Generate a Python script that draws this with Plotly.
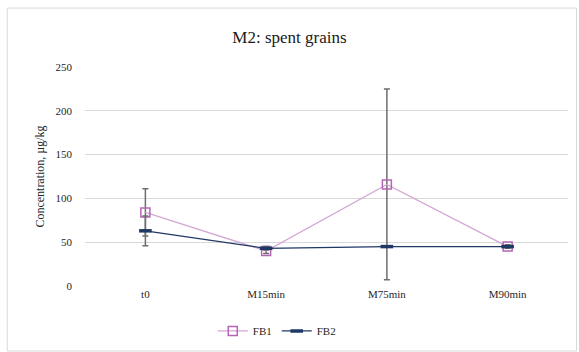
import plotly.graph_objects as go

categories = ["t0", "M15min", "M75min", "M90min"]
fb1_values = [84, 40, 116, 45]
fb1_errors = [27, 3, 109, 2]
fb2_values = [63, 43, 45, 45]
fb2_errors = [17, 2, 0, 1]
y_ticks = [0, 50, 100, 150, 200, 250]

font_family = "Liberation Serif"

fig = go.Figure()
fig.add_trace(go.Scatter(
    x=categories, y=fb1_values, name="FB1", mode="lines+markers",
    line=dict(color="#D4A6D4", width=1.3),
    marker=dict(symbol="square-open", size=9, color="#B565B5", line=dict(width=1.5, color="#B565B5")),
    error_y=dict(type="data", array=fb1_errors, visible=True, color="#6E6E6E", thickness=1.5, width=3),
))
fig.add_trace(go.Scatter(
    x=categories, y=fb2_values, name="FB2", mode="lines+markers",
    line=dict(color="#1F3864", width=1.3),
    marker=dict(symbol="line-ew", size=9, color="#1F3864", line=dict(width=3.5, color="#1F3864")),
    error_y=dict(type="data", array=fb2_errors, visible=True, color="#6E6E6E", thickness=1.5, width=3),
))

fig.update_layout(
    width=579, height=352,
    margin=dict(l=84.5, r=10.5, t=67, b=66, autoexpand=False),
    paper_bgcolor="white", plot_bgcolor="white",
    font=dict(family=font_family, color="#404040", size=11),
    title=dict(text="M2: spent grains", x=0.5, xanchor="center", y=0.895, yanchor="middle",
               font=dict(family=font_family, size=17, color="#1a1a1a")),
    showlegend=True,
    legend=dict(orientation="h", xref="container", yref="container",
                x=0.478, xanchor="center", y=0.06, yanchor="middle",
                font=dict(family=font_family, size=11, color="#262626"),
                itemwidth=30, tracegroupgap=0),
    shapes=[dict(type="rect", xref="paper", yref="paper",
                 x0=-0.161, x1=1.0176, y0=-0.297, y1=1.269,
                 line=dict(color="#D9D9D9", width=1), fillcolor="rgba(0,0,0,0)", layer="below")],
)
fig.update_xaxes(range=[-0.5, 3.5], automargin=False, showgrid=False, showline=False, zeroline=False, ticks="",
                 tickfont=dict(family=font_family, size=11, color="#262626"))
fig.update_yaxes(range=[0, 250], automargin=False, tickvals=y_ticks, showgrid=True, gridcolor="#D9D9D9", gridwidth=1,
                 zeroline=False, showline=False, ticks="", ticklabelstandoff=12,
                 tickfont=dict(family=font_family, size=11, color="#262626"),
                 title=dict(text="Concentration, µg/kg", standoff=8,
                            font=dict(family=font_family, size=12, color="#262626")))

fig.write_html("out.html", config={"displayModeBar": False},
               post_script="document.body.style.margin='0';document.body.style.overflow='hidden';")
